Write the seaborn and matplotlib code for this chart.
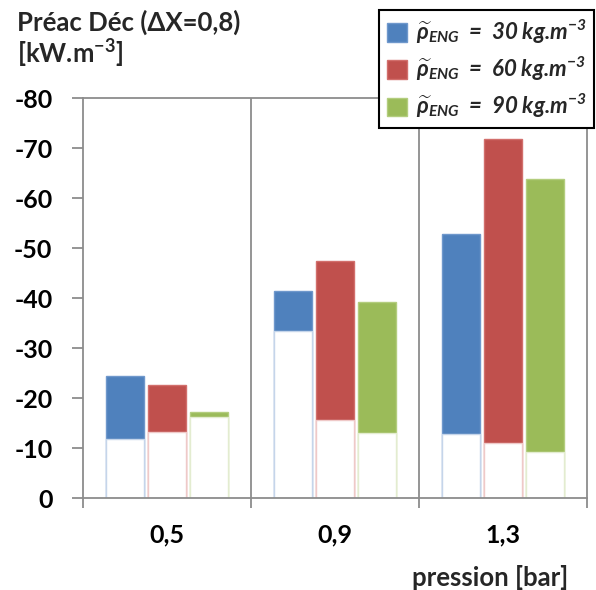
import matplotlib
matplotlib.use('Agg')
import matplotlib.pyplot as plt
from matplotlib.ticker import FixedLocator
import seaborn as sns
import pandas as pd

# ---- data ----
pressions = ['0,5', '0,9', '1,3']
series = ['30', '60', '90']
top_30 = [-24.4, -41.5, -52.9]
top_60 = [-22.6, -47.4, -71.9]
top_90 = [-17.2, -39.3, -63.9]
bot_30 = [-11.9, -33.5, -12.9]
bot_60 = [-13.2, -15.7, -11.1]
bot_90 = [-16.3, -13.1, -9.3]
y_ticks = [0, -10, -20, -30, -40, -50, -60, -70, -80]
y_labels = ['0', '-10', '-20', '-30', '-40', '-50', '-60', '-70', '-80']
legend_labels = [r'$\widetilde{\rho}_{ENG}$  =  30 kg.m$^{-3}$',
                 r'$\widetilde{\rho}_{ENG}$  =  60 kg.m$^{-3}$',
                 r'$\widetilde{\rho}_{ENG}$  =  90 kg.m$^{-3}$']

colors = ['#4F81BD', '#C0504D', '#9BBB59']
edge_top = ['#6F98CC', '#D26F6C', '#B3CD7E']
edge_bot = ['#C5D5EA', '#EFC9C8', '#E3ECD0']

rows = []
for s, tops, bots in zip(series, [top_30, top_60, top_90], [bot_30, bot_60, bot_90]):
    for p, t, b in zip(pressions, tops, bots):
        rows.append({'pression': p, 'serie': s, 'top': t, 'bottom': b})
df = pd.DataFrame(rows)

sns.set_theme(style='white')
grey = '#8C8C8C'
plt.rcParams['font.family'] = ['Lato', 'DejaVu Sans']
plt.rcParams['mathtext.fontset'] = 'custom'
plt.rcParams['mathtext.it'] = 'Lato:italic:bold'
plt.rcParams['mathtext.rm'] = 'Lato:italic:bold'
plt.rcParams['mathtext.bf'] = 'Lato:bold'
plt.rcParams['ytick.left'] = True
plt.rcParams['ytick.major.size'] = 8
plt.rcParams['ytick.major.width'] = 1.3
plt.rcParams['ytick.color'] = grey
plt.rcParams['ytick.labelcolor'] = 'black'
plt.rcParams['xtick.labelcolor'] = 'black'

fig = plt.figure(figsize=(5.96, 5.90), dpi=100)
ax = fig.add_axes([83/596, 92/590, 504/596, 400/590])

sns.barplot(data=df, x='pression', y='top', hue='serie', order=pressions,
            hue_order=series, palette=colors, width=0.75, gap=0.08,
            saturation=1, errorbar=None, legend=False, linewidth=1, ax=ax)
sns.barplot(data=df, x='pression', y='bottom', hue='serie', order=pressions,
            hue_order=series, palette=['white'] * 3, width=0.75, gap=0.08,
            saturation=1, errorbar=None, legend=False, linewidth=1, ax=ax)

for i, cont in enumerate(ax.containers):
    ec = edge_top[i] if i < 3 else edge_bot[i - 3]
    for patch in cont:
        patch.set_edgecolor(ec)

ax.set_ylim(0, -80)
ax.set_xlim(-0.5, 2.5)
ax.vlines([0.5, 1.5], 0, -80, color=grey, lw=1.3, zorder=0.5)
for sp in ax.spines.values():
    sp.set_visible(True)
    sp.set_color(grey)
    sp.set_linewidth(1.3)

ax.set_yticks(y_ticks)
ax.set_yticklabels(y_labels, fontsize=18, fontweight='bold')
ax.yaxis.set_tick_params(which='major', direction='out', length=8, width=1.3,
                         color=grey, left=True, pad=14)
ax.set_xticks(range(len(pressions)))
ax.set_xticklabels(pressions, fontsize=18, fontweight='bold')
ax.xaxis.set_minor_locator(FixedLocator([-0.5, 0.5, 1.5, 2.5]))
ax.tick_params(axis='x', which='major', length=0, pad=18)
ax.tick_params(axis='x', which='minor', direction='out', length=7,
               width=1.3, color=grey, bottom=True)
ax.set_xlabel('')
ax.set_ylabel('')

fig.text(17/596, 1 - 31/590, 'Préac Déc (ΔX=0,8)', fontsize=18.5,
         fontweight='bold', va='baseline', ha='left')
fig.text(17/596, 1 - 63/590, r'[kW.m$^{\mathbf{-3}}$]', fontsize=18.5,
         fontweight='bold', va='baseline', ha='left')
fig.text(568/596, 1 - 577/590, 'pression [bar]', fontsize=18.5,
         fontweight='bold', va='center', ha='right')

handles = [ax.containers[i] for i in range(3)]
leg = fig.legend(handles, legend_labels, loc='upper right',
                 bbox_to_anchor=(594/596, 1 - 10/590), frameon=True,
                 fancybox=False, edgecolor='black', framealpha=1,
                 handlelength=0.9, handleheight=0.9, handletextpad=0.4,
                 borderpad=0.35, labelspacing=0.4, borderaxespad=0,
                 prop={'family': 'Lato', 'weight': 'bold', 'style': 'italic',
                       'size': 16})
leg.get_frame().set_linewidth(1.5)

fig.savefig('out.png', dpi=100)
